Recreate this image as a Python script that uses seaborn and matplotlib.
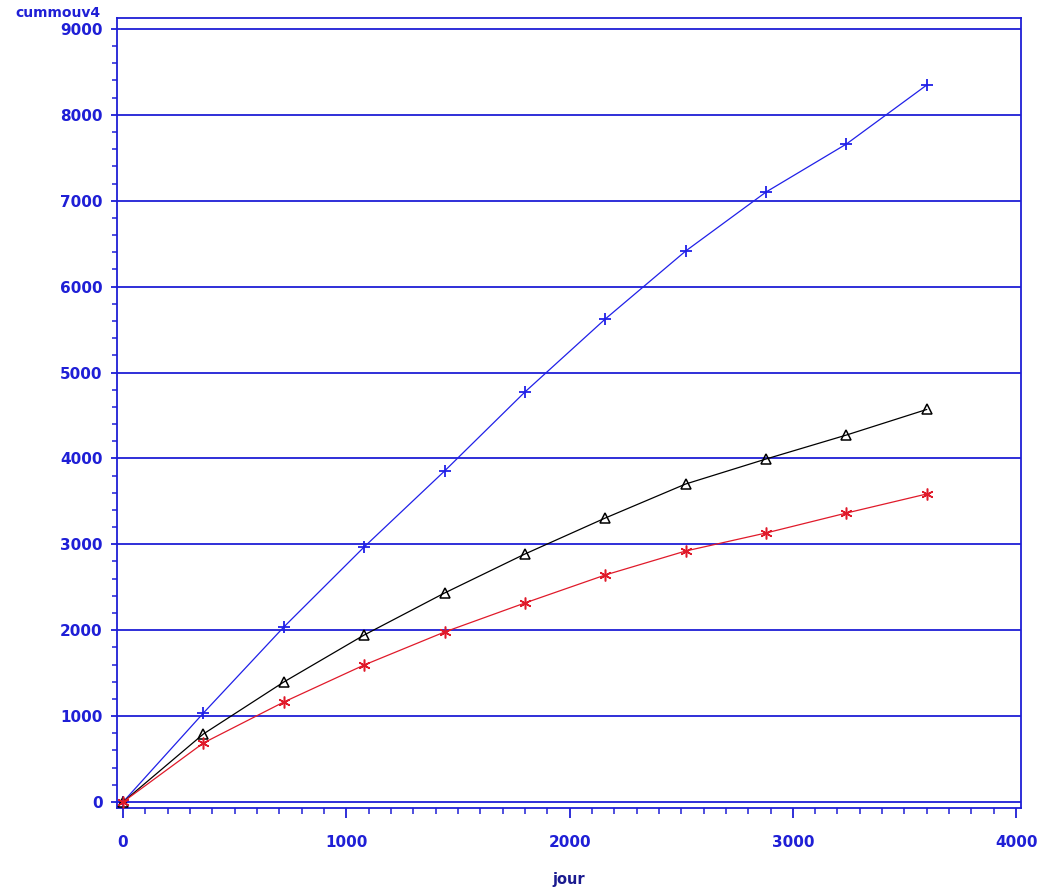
import numpy as np
import pandas as pd
import matplotlib
matplotlib.use('Agg')
import matplotlib.pyplot as plt
import seaborn as sns
from matplotlib.ticker import MultipleLocator

# data
jour = [0, 360, 720, 1080, 1440, 1800, 2160, 2520, 2880, 3240, 3600]
serie_plus = [0, 1036, 2037, 2969, 3853, 4773, 5623, 6414, 7101, 7660, 8347]
serie_tri = [0, 792, 1397, 1944, 2433, 2887, 3306, 3702, 3993, 4272, 4570]
serie_star = [0, 687, 1164, 1595, 1979, 2317, 2643, 2922, 3132, 3364, 3586]

BLUE = '#1f1fd6'

sns.set_theme(style='white')
plt.rcParams['font.family'] = ['DejaVu Sans']

fig = plt.figure(figsize=(10.39, 8.9), dpi=100)
ax = fig.add_axes([0.1126, 0.0921, 0.8701, 0.8877])

# horizontal reference lines at the major y ticks
for yv in range(0, 10000, 1000):
    ax.axhline(yv, color=BLUE, lw=1.3, zorder=1)

df = pd.DataFrame({'jour': jour, 'plus': serie_plus, 'tri': serie_tri, 'star': serie_star})

sns.lineplot(data=df, x='jour', y='plus', ax=ax, color='#2020e8', lw=0.9,
             marker='+', markersize=8.5, markeredgewidth=1.3, markeredgecolor='#2020e8', zorder=3)
sns.lineplot(data=df, x='jour', y='tri', ax=ax, color='black', lw=0.9,
             marker='^', markersize=7.5, markerfacecolor='none', markeredgewidth=1.1,
             markeredgecolor='black', zorder=3)
sns.lineplot(data=df, x='jour', y='star', ax=ax, color='#e01a2a', lw=0.9,
             marker=(6, 2, 0), markersize=8.5, markeredgewidth=1.1, markeredgecolor='#e01a2a', zorder=3)

ax.set_xlim(-27, 4022)
ax.set_ylim(-70, 9127)

ax.xaxis.set_major_locator(MultipleLocator(1000))
ax.xaxis.set_minor_locator(MultipleLocator(100))
ax.yaxis.set_major_locator(MultipleLocator(1000))
ax.yaxis.set_minor_locator(MultipleLocator(200))

for sp in ax.spines.values():
    sp.set_color(BLUE)
    sp.set_linewidth(1.3)

ax.tick_params(axis='x', which='major', length=7.5, width=1.3, color=BLUE, direction='out',
               pad=12, labelsize=11, labelcolor=BLUE, bottom=True)
ax.tick_params(axis='x', which='minor', length=4, width=1.1, color=BLUE, direction='out', bottom=True)
ax.tick_params(axis='y', which='major', length=4.5, width=1.3, color=BLUE, direction='out',
               pad=6, labelsize=11, labelcolor=BLUE, left=True)
ax.tick_params(axis='y', which='minor', length=3.5, width=1.1, color=BLUE, direction='out', left=True)

for lab in ax.get_xticklabels() + ax.get_yticklabels():
    lab.set_fontweight('bold')

ax.set_xlabel('')
ax.set_ylabel('')
fig.text(0.0144, 0.978, 'cummouv4', color=BLUE, fontsize=10, fontweight='bold', ha='left', va='bottom')
fig.text(0.547, 0.003, 'jour', color='#1a1a90', fontsize=10.5, fontweight='bold', ha='center', va='bottom')

fig.savefig('out.png', dpi=100)
